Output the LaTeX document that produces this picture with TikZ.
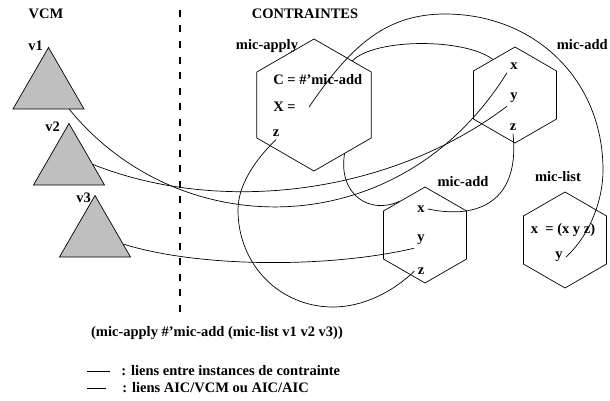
\documentclass[tikz,border=0pt]{standalone}
\usepackage{fontspec}
\setmainfont{Liberation Serif}
\usepackage{tikz}
\usetikzlibrary{shapes.geometric,positioning}

\begin{document}
\begin{tikzpicture}[x=1pt,y=1pt,line width=0.7pt,
  font=\fontsize{14.5}{17}\selectfont\bfseries,
  vcm/.style={draw,fill=gray!50,regular polygon,regular polygon sides=3,minimum size=82pt,inner sep=0pt},
  hexa/.style={draw,regular polygon,regular polygon sides=6,regular polygon rotate=30,minimum size=#1,inner sep=0pt},
  hexa/.default=96pt,
  lbl/.style={inner sep=3pt},
  divider/.style={line width=1.3pt,dash pattern=on 7pt off 8.5pt}]
\useasboundingbox (0,0) rectangle (610,400);

% titles and separator
\node[lbl] (vcmtitle) at (46,386) {VCM};
\node[lbl] (ctitle) at (305,386) {CONTRAINTES};
\coordinate (divtop) at (180,390);
\coordinate (divbot) at (180,82);
\draw[divider] (divtop) -- (divbot);

% variables
\node[vcm] (v1) at (48.5,311.5) {};
\node[vcm] (v2) at (69,235.5) {};
\node[vcm] (v3) at (95,163.5) {};
\node[lbl] (v1lbl) at (35.5,354) {v1};
\node[lbl] (v2lbl) at (52.5,273) {v2};
\node[lbl] (v3lbl) at (83.5,202) {v3};

% constraints
\node[hexa=132pt] (apply) at (314,295) {};
\node[hexa] (addA) at (515,305) {};
\node[hexa] (addB) at (425,165) {};
\node[hexa] (list) at (565,160) {};
\node[lbl] (applylbl) at (267,354) {mic-apply};
\node[lbl,anchor=east] (addAlbl) at (611,355) {mic-add};
\node[lbl] (addBlbl) at (463,218) {mic-add};
\node[lbl] (listlbl) at (558,223) {mic-list};

\node[lbl,anchor=west] (applyC) at (270,320) {C = \#'mic-add};
\node[lbl,anchor=west] (applyX) at (270,293) {X =};
\node[lbl] (applyZ) at (276,267) {z};
\coordinate[right=10pt of applyX] (xslot);

\node[lbl] (ax) at (514,334) {x};
\node[lbl] (ay) at (514,302) {y};
\node[lbl] (az) at (513,273) {z};
\node[lbl] (bx) at (421,191) {x};
\node[lbl] (by) at (421,160) {y};
\node[lbl] (bz) at (421,129) {z};
\node[lbl] (lx) at (563,170) {x \ = (x y z)};
\node[lbl] (ly) at (559,143) {y};

% links
\draw (v1.-45) .. controls (180,155) and (400,155) .. (ax.south west);
\draw (v2.east) .. controls (220,185) and (390,205) .. (ay.south west);
\draw (v3.-15) .. controls (200,132) and (330,132) .. (by.south west);
\draw (xslot) .. controls (350,353) and (385,386) .. (445,386)
  .. controls (535,386) and (603,320) .. (603,230)
  .. controls (603,200) and (590,165) .. (ly.east);
\draw (apply.49) .. controls (375,362) and (465,362) .. (addA.122);
\draw (apply.-58) .. controls (338,205) and (370,185) .. (addB.127);
\draw (applyZ.south) .. controls (255,240) and (238,215) .. (238,190)
  .. controls (238,135) and (280,93) .. (333,93)
  .. controls (365,93) and (395,110) .. (bz.west);
\draw (bx.east) .. controls (480,180) and (520,200) .. (az.south);

% expression and legend
\node[lbl] (expr) at (217,67) {(mic-apply \#'mic-add (mic-list v1 v2 v3))};
\node[lbl,anchor=west] (leg1) at (118,29) {: liens entre instances de contrainte};
\node[lbl,anchor=west] (leg2) at (119,12) {: liens AIC/VCM ou AIC/AIC};
\draw ([xshift=-31pt]leg1.west) -- ([xshift=-8pt]leg1.west);
\draw ([xshift=-32pt]leg2.west) -- ([xshift=-13pt]leg2.west);
\end{tikzpicture}
\end{document}
